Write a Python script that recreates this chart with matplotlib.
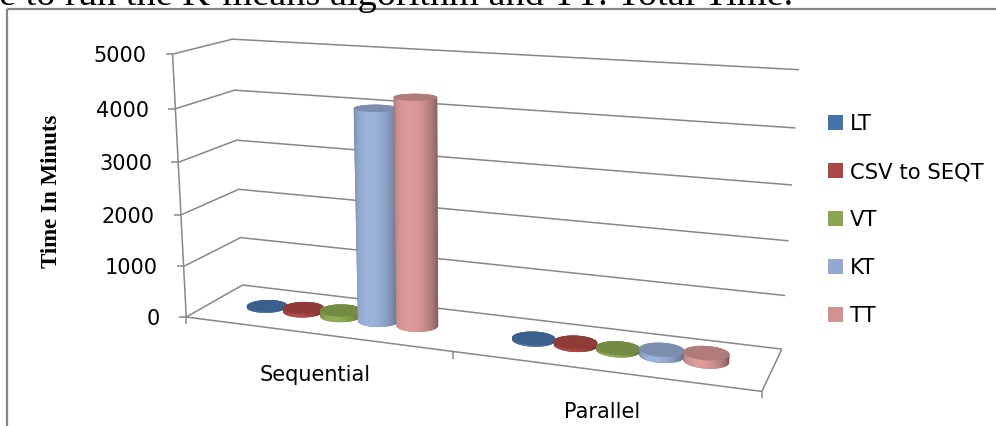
import numpy as np
import matplotlib
matplotlib.use("Agg")
import matplotlib.pyplot as plt
from matplotlib.patches import Polygon, Rectangle, Patch
from matplotlib.colors import to_rgb

# ---- data ---------------------------------------------------------------
categories = ["Sequential", "Parallel"]
series_names = ["LT", "CSV to SEQT", "VT", "KT", "TT"]
lt = [20, 30]
csv_to_seqt = [70, 50]
vt = [110, 40]
kt = [4050, 110]
tt = [4300, 150]
value_ticks = [0, 1000, 2000, 3000, 4000, 5000]
series_colors = ["#4572A7", "#AA4643", "#89A54E", "#93A9CF", "#D19392"]

series_values = [lt, csv_to_seqt, vt, kt, tt]

# ---- 3-D frame geometry ------------------------------------------------
W, H = 996, 426
DEPTH = 0.43            # floor depth, in category widths
BAR_STEP = 0.145        # spacing of cylinders inside a category
RADIUS = BAR_STEP / 2
ZSCALE = 1000.0         # world height unit
ncat = len(categories)
zmax = value_ticks[-1] / ZSCALE

# where the plotting box sits on the canvas (corner -> pixel)
frame_world = [(0, 0, 0), (ncat, 0, 0), (0, DEPTH, 0), (ncat, DEPTH, 0),
               (0, 0, zmax), (0, DEPTH, zmax), (ncat, DEPTH, zmax), (1, 0, 0)]
frame_px = [(187, 318), (762, 392), (242, 285), (782, 349),
            (172, 54), (233, 39), (799, 70), (453, 350)]


def fit_camera(world, px):
    rows = []
    for (X, Y, Z), (u, v) in zip(world, px):
        u = (u - 500) / 300.0
        v = (v - 200) / 300.0
        p = [X, Y, Z, 1.0]
        rows.append(p + [0, 0, 0, 0] + [-u * q for q in p])
        rows.append([0, 0, 0, 0] + p + [-v * q for q in p])
    _, _, vt_ = np.linalg.svd(np.array(rows, float))
    return vt_[-1].reshape(3, 4)


P = fit_camera(frame_world, frame_px)
_, _, vtc = np.linalg.svd(P)
cam = vtc[-1]
cam = cam[:3] / cam[3]


def project(pts):
    pts = np.atleast_2d(np.asarray(pts, float))
    h = np.c_[pts, np.ones(len(pts))] @ P.T
    return np.c_[h[:, 0] / h[:, 2] * 300 + 500, h[:, 1] / h[:, 2] * 300 + 200]


def convex_hull(points):
    pts = sorted(map(tuple, points))

    def cross(o, a, b):
        return (a[0] - o[0]) * (b[1] - o[1]) - (a[1] - o[1]) * (b[0] - o[0])

    lower, upper = [], []
    for p in pts:
        while len(lower) >= 2 and cross(lower[-2], lower[-1], p) <= 0:
            lower.pop()
        lower.append(p)
    for p in reversed(pts):
        while len(upper) >= 2 and cross(upper[-2], upper[-1], p) <= 0:
            upper.pop()
        upper.append(p)
    return np.array(lower[:-1] + upper[:-1])


# ---- figure ------------------------------------------------------------
fig = plt.figure(figsize=(W / 100, H / 100), dpi=100)
ax = fig.add_axes([0, 0, 1, 1])
ax.set_xlim(0, W)
ax.set_ylim(H, 0)
ax.set_autoscale_on(False)
ax.axis("off")

grid_kw = dict(color="#878787", lw=1.1, solid_capstyle="butt", zorder=1)

# chart border
ax.add_patch(Rectangle((7, 9), 1200, 600, fill=False, edgecolor="#868686", lw=1.6, zorder=0))

# walls: side-wall and back-wall gridlines
for t in value_ticks:
    z = t / ZSCALE
    seg = project([(0, 0, z), (0, DEPTH, z), (ncat, DEPTH, z)])
    ax.plot(seg[:, 0], seg[:, 1], **grid_kw)
    a = project([(0, 0, z)])[0]
    ax.plot([a[0] - 7, a[0]], [a[1], a[1]], **grid_kw)
    ax.text(a[0] - 26, a[1] + 2, f"{t}", ha="right", va="center", fontsize=15,
            family="DejaVu Sans", color="black")

# value axis line and floor outline
va_line = project([(0, 0, 0), (0, 0, zmax)])
ax.plot(va_line[:, 0], va_line[:, 1], **grid_kw)
floor = project([(0, 0, 0), (ncat, 0, 0), (ncat, DEPTH, 0)])
ax.plot(floor[:, 0], floor[:, 1], **grid_kw)

# category ticks and labels
for c in range(ncat + 1):
    p = project([(c, 0, 0)])[0]
    ax.plot([p[0], p[0]], [p[1], p[1] + 7], **grid_kw)
for c, name in enumerate(categories):
    p = project([(c + 0.5, 0, 0)])[0]
    ax.text(p[0], p[1] + 41, name, ha="center", va="center", fontsize=15,
            family="DejaVu Sans", color="black")

# ---- cylinders ---------------------------------------------------------
light = np.array([-0.35, -1.0, 0.25])
light /= np.linalg.norm(light)
theta = np.linspace(0, 2 * np.pi, 145)


def shade(rgb, k):
    return tuple(np.clip(np.array(rgb) * k, 0, 1))


bars = []
for si, vals in enumerate(series_values):
    for ci, val in enumerate(vals):
        cx = ci + 0.5 + (si - 2) * BAR_STEP
        cy = DEPTH / 2
        dist = np.linalg.norm(cam - np.array([cx, cy, 0]))
        bars.append((dist, cx, cy, val / ZSCALE, to_rgb(series_colors[si])))

bars.sort(key=lambda b: -b[0])
z0 = 100
tgrid = np.linspace(-1, 1, 200)
for dist, cx, cy, h, rgb in bars:
    ring = np.c_[cx + RADIUS * np.cos(theta), cy + RADIUS * np.sin(theta)]
    bot = project(np.c_[ring, np.zeros(len(ring))])
    top = project(np.c_[ring, np.full(len(ring), h)])

    # side of the cylinder: silhouette filled with a lit gradient
    hull = convex_hull(np.r_[bot, top])
    body = Polygon(hull, closed=True, facecolor=shade(rgb, 0.8),
                   edgecolor="none", zorder=z0)
    ax.add_patch(body)
    normals = np.c_[tgrid, -np.sqrt(1 - tgrid ** 2), np.zeros_like(tgrid)]
    k = 0.62 + 0.45 * np.clip(normals @ light, 0, None)
    grad = np.clip(np.array(rgb)[None, :] * k[:, None], 0, 1)[None, :, :]
    xl, xr = hull[:, 0].min(), hull[:, 0].max()
    yt, yb = hull[:, 1].min(), hull[:, 1].max()
    im = ax.imshow(grad, extent=(xl, xr, yb, yt), aspect="auto",
                   interpolation="bilinear", zorder=z0 + 0.5)
    im.set_clip_path(body)

    # top face
    ax.add_patch(Polygon(top, closed=True, facecolor=shade(rgb, 0.84),
                         edgecolor="none", zorder=z0 + 1))
    z0 += 2

ax.set_xlim(0, W)
ax.set_ylim(H, 0)

# ---- legend ------------------------------------------------------------
handles = [Patch(facecolor=c, edgecolor="none", label=s)
           for s, c in zip(series_names, series_colors)]
ax.legend(handles=handles, loc="upper left", bbox_to_anchor=(828 / W, 1 - 114 / H),
          frameon=False, prop={"family": "DejaVu Sans", "size": 15.2},
          handlelength=0.72, handleheight=0.72, handletextpad=0.33,
          labelspacing=1.33, borderpad=0, borderaxespad=0)

# axis title
ax.text(52, 191, "Time In Minuts", rotation=90, ha="center", va="center",
        family="Liberation Serif", fontweight="bold", fontsize=16.5, color="black")

# running text above the chart
ax.text(-1, 5, "e to run the K-means algorithm and TT: Total Time.", ha="left",
        va="baseline", family="Liberation Serif", fontsize=27.5, color="black")

fig.savefig("out.png", dpi=100)
